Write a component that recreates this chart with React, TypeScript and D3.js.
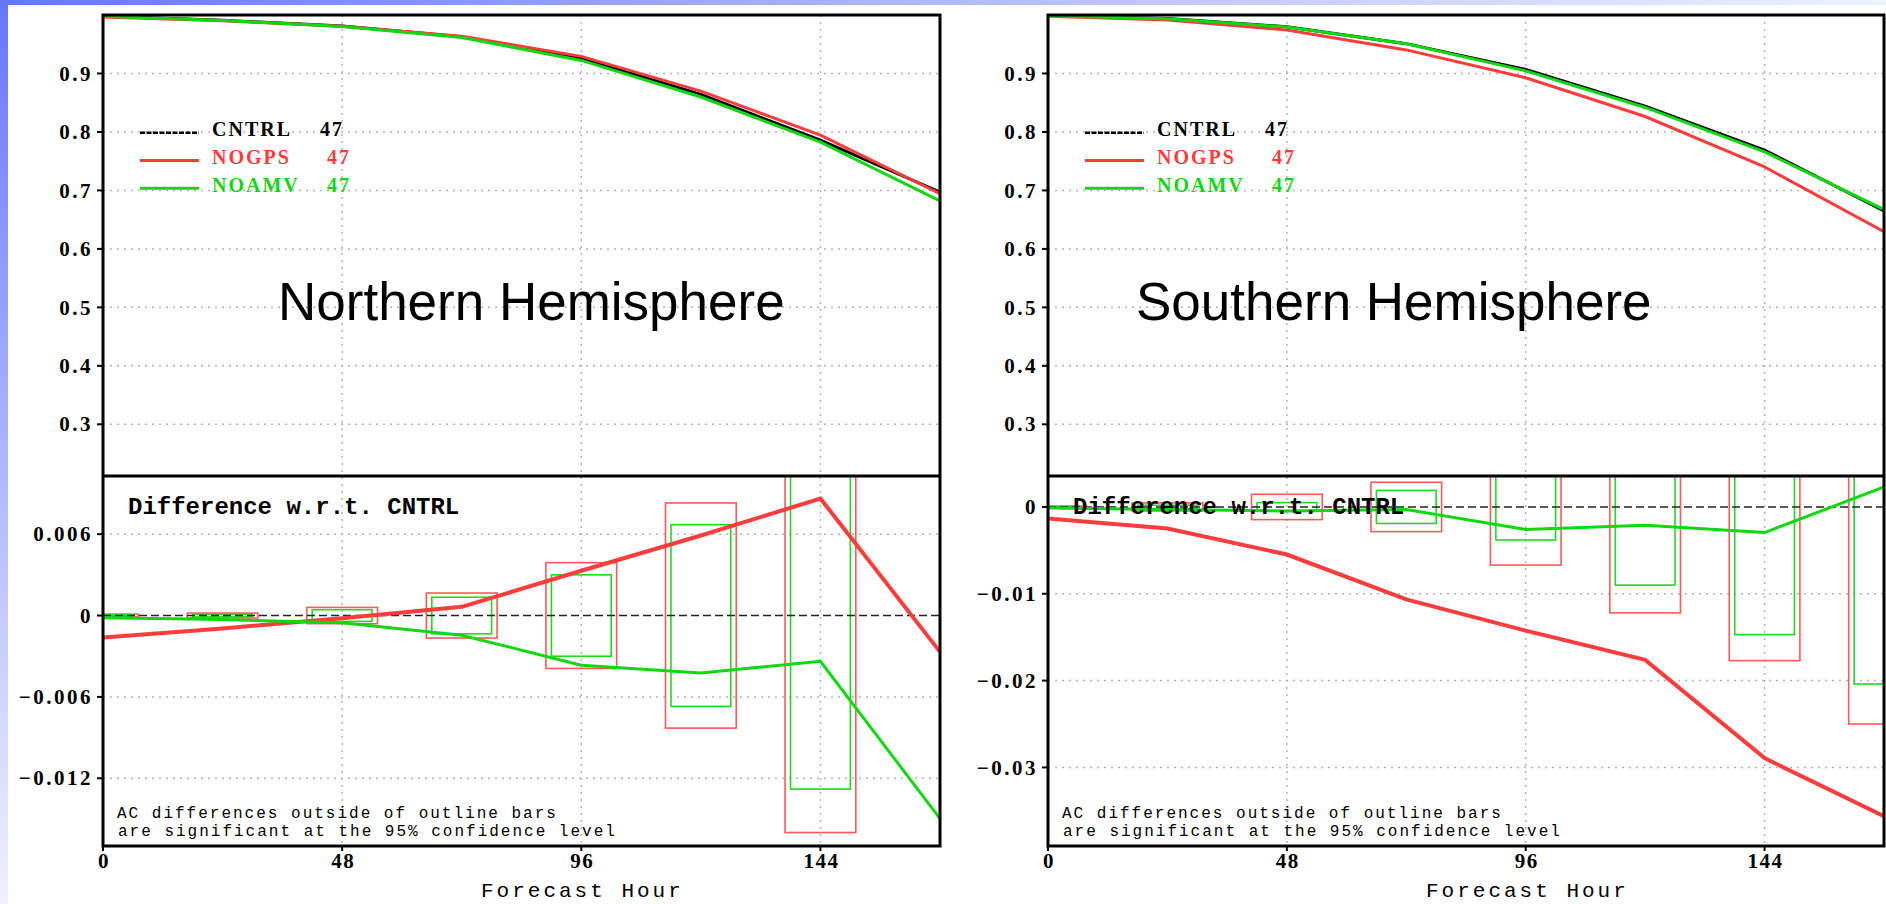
import React from 'react';
import * as d3 from 'd3';

const W = 1886;
const H = 904;

// forecast hours of the verification points
const hours = [0, 24, 48, 72, 96, 120, 144, 168];
const xTicks = [0, 48, 96, 144];
const acTicks = [0.9, 0.8, 0.7, 0.6, 0.5, 0.4, 0.3];
const acLabels = ['0.9', '0.8', '0.7', '0.6', '0.5', '0.4', '0.3'];
const acDomain = [0.2116, 1.0];

const seriesNames = ['CNTRL', 'NOGPS', 'NOAMV'];
const seriesCounts = ['47', '47', '47'];

// Northern Hemisphere
const nhCntrl = [0.998, 0.991, 0.981, 0.963, 0.926, 0.864, 0.786, 0.697];
const nhNogps = [0.9964, 0.99, 0.9808, 0.9636, 0.9293, 0.8699, 0.7946, 0.6943];
const nhNoamv = [0.9978, 0.9907, 0.9805, 0.9616, 0.9223, 0.8598, 0.7826, 0.682];
const nhNogpsDiff = [-0.00162, -0.00095, -0.0002, 0.00064, 0.0033, 0.0059, 0.00863, -0.00268];
const nhNoamvDiff = [-0.00017, -0.0003, -0.00054, -0.00145, -0.00366, -0.00423, -0.00337, -0.01498];
const nhBarHours = [0, 24, 48, 72, 96, 120, 144];
const nhNogpsBar = [0.0001, 0.00018, 0.0006, 0.00166, 0.0039, 0.0083, 0.016];
const nhNoamvBar = [0.00005, 0.0001, 0.00043, 0.00135, 0.003, 0.0067, 0.0128];
const nhDiffDomain = [-0.016995, 0.01029];
const nhDiffTicks = [0.006, 0, -0.006, -0.012];
const nhDiffLabels = ['0.006', '0', '\u22120.006', '\u22120.012'];

// Southern Hemisphere
const shCntrl = [0.999, 0.994, 0.98, 0.951, 0.907, 0.844, 0.769, 0.665];
const shNogps = [0.9977, 0.9915, 0.9745, 0.9403, 0.8927, 0.8264, 0.7401, 0.6294];
const shNoamv = [0.9989, 0.9937, 0.9795, 0.9507, 0.9044, 0.8419, 0.766, 0.6673];
const shNogpsDiff = [-0.00134, -0.00249, -0.00548, -0.01065, -0.01425, -0.01762, -0.02893, -0.03563];
const shNoamvDiff = [-0.00011, -0.0003, -0.00046, -0.0003, -0.0026, -0.0021, -0.00295, 0.0023];
const shBarHours = [0, 24, 48, 72, 96, 120, 144, 168];
const shNogpsBar = [0.0001, 0.00046, 0.00146, 0.00284, 0.0067, 0.0122, 0.0177, 0.025];
const shNoamvBar = [0.00005, 0.0002, 0.0005, 0.0019, 0.0038, 0.009, 0.0147, 0.0204];
const shDiffDomain = [-0.03905, 0.003564];
const shDiffTicks = [0, -0.01, -0.02, -0.03];
const shDiffLabels = ['0', '\u22120.01', '\u22120.02', '\u22120.03'];

const TOP = 15;
const MID = 476;
const BOT = 846;

const RED = '#ff3c3c';
const GREEN = '#10d810';
const GRID = '#b4b4b4';
const mono = '"Liberation Mono", "DejaVu Sans Mono", monospace';
const serif = '"Liberation Serif", "DejaVu Serif", serif';

function Panel(props: any) {
  const { id, x0, x1, title, titleX, cntrl, nogps, noamv, nogpsDiff, noamvDiff,
    barHours, nogpsBar, noamvBar, diffDomain, diffTicks, diffLabels } = props;
  const x = d3.scaleLinear().domain([0, 168]).range([x0, x1]);
  const yAc = d3.scaleLinear().domain(acDomain).range([MID, TOP]);
  const yDf = d3.scaleLinear().domain(diffDomain).range([BOT, MID]);

  const acLine = d3.line<number>().x((d, i) => x(hours[i])).y(d => yAc(d));
  const dfLine = d3.line<number>().x((d, i) => x(hours[i])).y(d => yDf(d));

  const redHalf = 7.1;
  const greenHalf = 6;
  const legendColors = ['#000', RED, GREEN];
  const legendY = [132.7, 160.5, 188.3];

  return (
    <g>
      <defs>
        <clipPath id={`${id}-top`}>
          <rect x={x0} y={TOP} width={x1 - x0} height={MID - TOP} />
        </clipPath>
        <clipPath id={`${id}-bot`}>
          <rect x={x0} y={MID} width={x1 - x0} height={BOT - MID} />
        </clipPath>
      </defs>
      <rect x={x0} y={TOP} width={x1 - x0} height={BOT - TOP} fill="#fff" />

      {/* grid */}
      {xTicks.filter(t => t > 0).map(t => (
        <line key={'vx' + t} x1={x(t)} x2={x(t)} y1={TOP} y2={BOT}
          stroke={GRID} strokeWidth={1.5} strokeDasharray="2 5" />
      ))}
      {acTicks.map(t => (
        <line key={'ha' + t} x1={x0} x2={x1} y1={yAc(t)} y2={yAc(t)}
          stroke={GRID} strokeWidth={1.5} strokeDasharray="2 5" />
      ))}
      {diffTicks.filter((t: number) => t !== 0).map((t: number) => (
        <line key={'hd' + t} x1={x0} x2={x1} y1={yDf(t)} y2={yDf(t)}
          stroke={GRID} strokeWidth={1.5} strokeDasharray="2 5" />
      ))}

      {/* anomaly correlation */}
      <g clipPath={`url(#${id}-top)`} fill="none" strokeWidth={3}>
        <path d={acLine(cntrl) || ''} stroke="#000" />
        <path d={acLine(nogps) || ''} stroke={RED} />
        <path d={acLine(noamv) || ''} stroke={GREEN} />
      </g>

      {/* legend */}
      {seriesNames.map((s, i) => (
        <g key={s}>
          <line x1={x0 + 37} x2={x0 + 96} y1={legendY[i]} y2={legendY[i]}
            stroke={legendColors[i]} strokeWidth={i === 0 ? 2.5 : 3}
            strokeDasharray={i === 0 ? '5 1.5' : undefined} />
          <text x={x0 + 109} y={legendY[i] + 3.5} fill={legendColors[i]}
            fontFamily={serif} fontWeight="bold" fontSize={20} letterSpacing={2}>{s}</text>
          <text x={x0 + (i === 0 ? 217 : 224)} y={legendY[i] + 3.5} fill={legendColors[i]}
            fontFamily={serif} fontWeight="bold" fontSize={20} letterSpacing={2}>{seriesCounts[i]}</text>
        </g>
      ))}

      <text x={titleX} y={320} fontFamily='"Liberation Sans", Arial, sans-serif'
        fontSize={53} fill="#000">{title}</text>

      {/* differences with significance bars */}
      <g clipPath={`url(#${id}-bot)`} fill="none">
        {barHours.map((h: number, i: number) => (
          <rect key={'rb' + h} x={x(h - redHalf)} width={2 * (x(redHalf) - x(0))}
            y={yDf(nogpsBar[i])} height={yDf(-nogpsBar[i]) - yDf(nogpsBar[i])}
            stroke="#ff5a5a" strokeWidth={1.6} />
        ))}
        {barHours.map((h: number, i: number) => (
          <rect key={'gb' + h} x={x(h - greenHalf)} width={2 * (x(greenHalf) - x(0))}
            y={yDf(noamvBar[i])} height={yDf(-noamvBar[i]) - yDf(noamvBar[i])}
            stroke="#22d822" strokeWidth={1.6} />
        ))}
        <line x1={x0} x2={x1} y1={yDf(0)} y2={yDf(0)} stroke="#222" strokeWidth={1.6} strokeDasharray="8 4" />
        <path d={dfLine(nogpsDiff) || ''} stroke={RED} strokeWidth={4} />
        <path d={dfLine(noamvDiff) || ''} stroke={GREEN} strokeWidth={3} />
      </g>

      <text x={x0 + 25} y={514} fontFamily={mono} fontWeight="bold" fontSize={24}
        fill="#000">Difference w.r.t. CNTRL</text>
      <text x={x0 + 14} y={818} fontFamily={mono} fontSize={16} letterSpacing={2}
        fill="#000">AC differences outside of outline bars</text>
      <text x={x0 + 15} y={836} fontFamily={mono} fontSize={16} letterSpacing={2}
        fill="#000">are significant at the 95% confidence level</text>

      {/* frame */}
      <rect x={x0} y={TOP} width={x1 - x0} height={BOT - TOP} fill="none" stroke="#000" strokeWidth={3} />
      <line x1={x0} x2={x1} y1={MID} y2={MID} stroke="#000" strokeWidth={3} />

      {/* y axes */}
      {acTicks.map((t, i) => (
        <g key={'ya' + t}>
          <line x1={x0 - 6} x2={x0} y1={yAc(t)} y2={yAc(t)} stroke="#000" strokeWidth={2} />
          <text x={x0 - 10} y={yAc(t)} dy="0.34em" textAnchor="end" fontFamily={serif}
            fontWeight="bold" fontSize={21} letterSpacing={2.5} fill="#000">{acLabels[i]}</text>
        </g>
      ))}
      {diffTicks.map((t: number, i: number) => (
        <g key={'yd' + t}>
          <line x1={x0 - 6} x2={x0} y1={yDf(t)} y2={yDf(t)} stroke="#000" strokeWidth={2} />
          <text x={x0 - 10} y={yDf(t)} dy="0.34em" textAnchor="end" fontFamily={serif}
            fontWeight="bold" fontSize={21} letterSpacing={2.5} fill="#000">{diffLabels[i]}</text>
        </g>
      ))}

      {/* x axis */}
      {xTicks.map(t => (
        <g key={'xt' + t}>
          <line x1={x(t)} x2={x(t)} y1={BOT} y2={BOT + 5} stroke="#000" strokeWidth={2} />
          <text x={x(t) + 1} y={868} textAnchor="middle" fontFamily={serif}
            fontWeight="bold" fontSize={21} letterSpacing={1.5} fill="#000">{t}</text>
        </g>
      ))}
      <text x={x0 + 378} y={897} fontFamily={mono} fontSize={21} letterSpacing={3}
        fill="#000">Forecast Hour</text>
    </g>
  );
}

export default function App() {
  return (
    <svg width={W} height={H} style={{ position: 'absolute', left: 0, top: 0, display: 'block' }}>
      <defs>
        <linearGradient id="bgTop" x1="0" y1="0" x2="1" y2="0">
          <stop offset="0" stopColor="#6676fb" />
          <stop offset="0.5" stopColor="#b2baff" />
          <stop offset="1" stopColor="#eef0ff" />
        </linearGradient>
        <linearGradient id="bgLeft" x1="0" y1="0" x2="0" y2="1">
          <stop offset="0" stopColor="#6676fb" />
          <stop offset="0.5" stopColor="#acb6ff" />
          <stop offset="1" stopColor="#eef0ff" />
        </linearGradient>
      </defs>
      <rect x={0} y={0} width={W} height={H} fill="#fff" />
      <rect x={0} y={0} width={W} height={5} fill="url(#bgTop)" />
      <rect x={0} y={0} width={8} height={H} fill="url(#bgLeft)" />

      <Panel id="nh" x0={103} x1={940} title="Northern Hemisphere" titleX={278}
        cntrl={nhCntrl} nogps={nhNogps} noamv={nhNoamv}
        nogpsDiff={nhNogpsDiff} noamvDiff={nhNoamvDiff}
        barHours={nhBarHours} nogpsBar={nhNogpsBar} noamvBar={nhNoamvBar}
        diffDomain={nhDiffDomain} diffTicks={nhDiffTicks} diffLabels={nhDiffLabels} />
      <Panel id="sh" x0={1048} x1={1884} title="Southern Hemisphere" titleX={1136}
        cntrl={shCntrl} nogps={shNogps} noamv={shNoamv}
        nogpsDiff={shNogpsDiff} noamvDiff={shNoamvDiff}
        barHours={shBarHours} nogpsBar={shNogpsBar} noamvBar={shNoamvBar}
        diffDomain={shDiffDomain} diffTicks={shDiffTicks} diffLabels={shDiffLabels} />
    </svg>
  );
}
